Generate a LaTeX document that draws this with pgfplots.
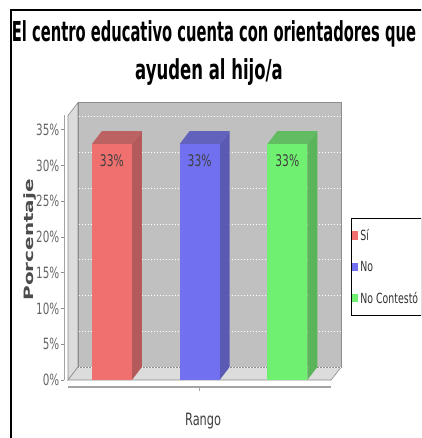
\documentclass[border=0pt]{standalone}
\usepackage{fontspec}
\usepackage{pgfplots}
\pgfplotsset{compat=1.18}
\setmainfont{DejaVu Sans}
\newfontfamily\cf[FakeStretch=0.67]{DejaVu Sans}
\newfontfamily\tf[FakeStretch=0.535]{DejaVu Sans}
\newfontfamily\tfb[FakeStretch=0.6]{DejaVu Sans}
\newfontfamily\rf[FakeStretch=1.55]{DejaVu Sans}
\definecolor{wallback}{HTML}{C0C0C0}
\definecolor{wallside}{HTML}{DCDCDC}
\definecolor{edge}{HTML}{8C8C8C}
\definecolor{redF}{HTML}{F07070}
\definecolor{redS}{HTML}{B45A5A}
\definecolor{redT}{HTML}{BC6262}
\definecolor{blueF}{HTML}{7070F0}
\definecolor{blueS}{HTML}{5A5AB4}
\definecolor{blueT}{HTML}{6262BC}
\definecolor{greenF}{HTML}{70F070}
\definecolor{greenS}{HTML}{5AB45A}
\definecolor{greenT}{HTML}{62BC62}
\begin{document}
\begin{tikzpicture}
\useasboundingbox (0,0) rectangle (421pt,438pt);
\clip (0,0) rectangle (421pt,438pt);
\fill[white] (0,0) rectangle (421pt,438pt);
% frame and title
\draw[line width=2.5pt] (11pt,0) -- (11pt,428pt) -- (425pt,428pt);
\node[anchor=base,font=\tf\bfseries\fontsize{27.5}{30}\selectfont] at (214pt,396pt) {El centro educativo cuenta con orientadores que};
\node[anchor=base,font=\tfb\bfseries\fontsize{27.5}{30}\selectfont] at (209pt,358pt) {ayuden al hijo/a};
\begin{axis}[
  at={(64pt,49.4pt)}, anchor=south west,
  scale only axis, width=277.7pt, height=287.4pt,
  xmin=-0.046, xmax=3.12, ymin=-1.2, ymax=39,
  clip=false,
  axis line style={draw=none},
  xtick=\empty,
  ytick={0,5,10,15,20,25,30,35},
  yticklabels={0\%,5\%,10\%,15\%,20\%,25\%,30\%,35\%},
  ytick pos=left, tick align=outside, major tick length=3pt,
  tick style={edge, line width=0.8pt},
  yticklabel style={font=\cf\fontsize{15.5}{17}\selectfont, text=black!60, inner sep=1.5pt},
  legend style={at={(1.0335,0.5935)}, anchor=north west, draw=black, line width=0.9pt,
    font=\cf\fontsize{14}{16}\selectfont, text=black!80, row sep=15pt,
    inner xsep=1pt, inner ysep=9pt},
  legend cell align=left,
  legend image code/.code={\fill[#1,draw=none] (0pt,-4pt) rectangle (6pt,4.5pt);},
]
% walls
\addplot[fill=wallside, draw=edge, line width=0.6pt, forget plot] coordinates {(0,0) (0.114,1.82) (0.114,38.82) (0,37)} -- cycle;
\addplot[fill=wallside, draw=edge, line width=0.6pt, forget plot] coordinates {(0,0) (0.114,1.82) (3.114,1.82) (3,0)} -- cycle;
\addplot[fill=wallback, draw=edge, line width=0.6pt, forget plot] coordinates {(0.114,1.82) (3.114,1.82) (3.114,38.82) (0.114,38.82)} -- cycle;
\pgfplotsinvokeforeach{1.82,6.82,11.82,16.82,21.82,26.82,31.82,36.82}{
  \addplot[white, line width=0.7pt, dash pattern=on 1.5pt off 1.5pt, forget plot] coordinates {(0.12,#1) (3.11,#1)};
}
% axis lines
\addplot[edge!80, line width=0.8pt, forget plot] coordinates {(-0.046,0) (-0.046,37)};
\addplot[edge!80, line width=1.6pt, forget plot] coordinates {(0,-1.0) (3,-1.0)};
\addplot[edge!80, line width=0.8pt, forget plot] coordinates {(1.5,-1.0) (1.5,-1.6)};
% bar 1: Sí
\addplot[fill=redS, draw=none, forget plot] coordinates {(0.728,0) (0.842,1.82) (0.842,34.82) (0.728,33)} -- cycle;
\addplot[fill=redT, draw=none, forget plot] coordinates {(0.272,33) (0.386,34.82) (0.842,34.82) (0.728,33)} -- cycle;
\addplot[ybar, bar width=0.456, bar shift=0, fill=redF, draw=none] coordinates {(0.5,33)};
% bar 2: No
\addplot[fill=blueS, draw=none, forget plot] coordinates {(1.728,0) (1.842,1.82) (1.842,34.82) (1.728,33)} -- cycle;
\addplot[fill=blueT, draw=none, forget plot] coordinates {(1.272,33) (1.386,34.82) (1.842,34.82) (1.728,33)} -- cycle;
\addplot[ybar, bar width=0.456, bar shift=0, fill=blueF, draw=none] coordinates {(1.5,33)};
% bar 3: No Contestó
\addplot[fill=greenS, draw=none, forget plot] coordinates {(2.728,0) (2.842,1.82) (2.842,34.82) (2.728,33)} -- cycle;
\addplot[fill=greenT, draw=none, forget plot] coordinates {(2.272,33) (2.386,34.82) (2.842,34.82) (2.728,33)} -- cycle;
\addplot[ybar, bar width=0.456, bar shift=0, fill=greenF, draw=none] coordinates {(2.5,33)};
\legend{Sí,No,No Contestó}
% value labels
\node[anchor=north, inner sep=0pt, text=black!75, font=\cf\fontsize{16}{18}\selectfont] at (axis cs:0.5,31.5) {33\%};
\node[anchor=north, inner sep=0pt, text=black!75, font=\cf\fontsize{16}{18}\selectfont] at (axis cs:1.5,31.5) {33\%};
\node[anchor=north, inner sep=0pt, text=black!75, font=\cf\fontsize{16}{18}\selectfont] at (axis cs:2.5,31.5) {33\%};
% axis titles
\node[anchor=base, text=black!75, font=\cf\fontsize{17}{19}\selectfont] at (axis cs:1.54,-6.3) {Rango};
\node[rotate=90, text=black!70, font=\rf\bfseries\fontsize{12.9}{15}\selectfont] at (axis cs:-0.433,19.6) {Porcentaje};
\end{axis}
\end{tikzpicture}
\end{document}
